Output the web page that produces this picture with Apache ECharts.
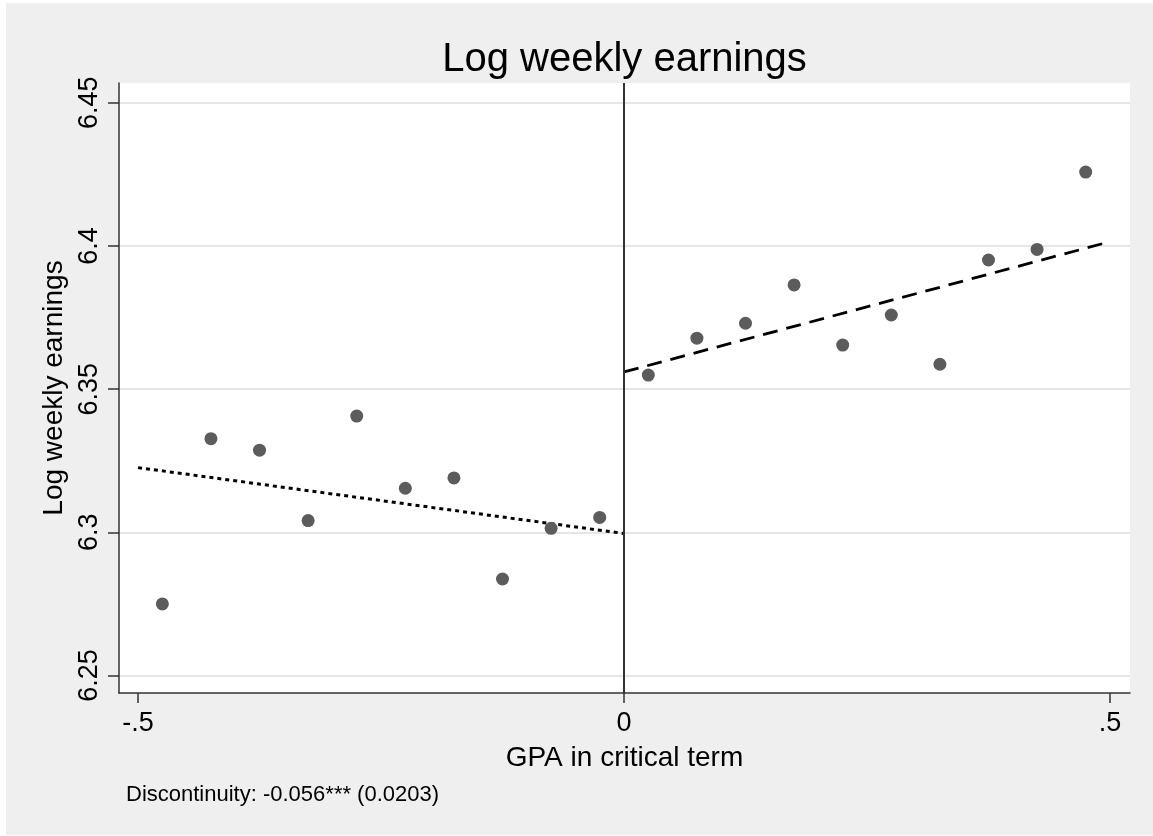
<!DOCTYPE html>
<html>
<head>
<meta charset="utf-8">
<title>Log weekly earnings</title>
<script src="https://cdn.jsdelivr.net/npm/echarts@6/dist/echarts.min.js"></script>
<style>
  html, body { margin: 0; padding: 0; background: #fff; }
  #main { width: 1153px; height: 836px; }
</style>
</head>
<body>
<div id="main"></div>
<script>
// bin midpoints of GPA in critical term, and mean log weekly earnings per bin
const binX = [
  -0.475, -0.425, -0.375, -0.325, -0.275, -0.225, -0.175, -0.125, -0.075, -0.025,
  0.025, 0.075, 0.125, 0.175, 0.225, 0.275, 0.325, 0.375, 0.425, 0.475
];
const binMeans = [
  6.2750, 6.3327, 6.3287, 6.3041, 6.3406, 6.3154, 6.3190, 6.2837, 6.3014, 6.3052,
  6.3549, 6.3678, 6.3730, 6.3864, 6.3654, 6.3759, 6.3587, 6.3951, 6.3988, 6.4258
];

// linear fits on each side of the cutoff
const fitLeftX = [-0.5, 0];
const fitLeftY = [6.3226, 6.2996];
const fitRightX = [0, 0.5];
const fitRightY = [6.3560, 6.4015];

const xTicks = [-0.5, 0, 0.5];
const xTickLabels = ['-.5', '0', '.5'];
const yTicks = [6.25, 6.3, 6.35, 6.4, 6.45];

const cutoff = 0;
const note = 'Discontinuity: -0.056*** (0.0203)';

const font = "'Liberation Sans', Arial, Helvetica, sans-serif";

const zip = (xs, ys) => xs.map((x, i) => [x, ys[i]]);

const chart = echarts.init(document.getElementById('main'));

const option = {
  backgroundColor: '#fff',
  animation: false,
  textStyle: { fontFamily: font, color: '#000' },
  title: {
    text: 'Log weekly earnings',
    left: 624.5,
    top: 40,
    padding: 0,
    textAlign: 'center',
    textStyle: { fontFamily: font, fontSize: 40, fontWeight: 'normal', color: '#000' }
  },
  graphic: [
    {
      type: 'rect',
      z: -10,
      silent: true,
      shape: { x: 6, y: 3, width: 1147, height: 832 },
      style: { fill: '#efefef' }
    },
    {
      type: 'text',
      left: 126,
      top: 784,
      silent: true,
      style: { text: note, font: '22px ' + font, fill: '#000' }
    }
  ],
  grid: {
    left: 119,
    right: 23,
    top: 83,
    bottom: 143,
    show: true,
    backgroundColor: '#fff',
    borderWidth: 0
  },
  xAxis: {
    type: 'value',
    min: -0.5196,
    max: 0.5206,
    name: 'GPA in critical term',
    nameLocation: 'middle',
    nameGap: 51,
    nameTextStyle: { fontFamily: font, fontSize: 28, color: '#000' },
    axisLine: { show: true, onZero: false, lineStyle: { color: '#333', width: 1.5 } },
    axisTick: { show: true, length: 10, customValues: xTicks, lineStyle: { color: '#333', width: 1.5 } },
    axisLabel: {
      customValues: xTicks,
      margin: 17,
      fontSize: 27,
      color: '#000',
      fontFamily: font,
      formatter: (v) => xTickLabels[xTicks.indexOf(v)]
    },
    splitLine: { show: false }
  },
  yAxis: {
    type: 'value',
    min: 6.2439,
    max: 6.4569,
    name: 'Log weekly earnings',
    nameLocation: 'middle',
    nameGap: 48,
    nameTextStyle: { fontFamily: font, fontSize: 28, color: '#000' },
    axisLine: { show: true, onZero: false, lineStyle: { color: '#333', width: 1.5 } },
    axisTick: { show: true, length: 11, customValues: yTicks, lineStyle: { color: '#333', width: 1.5 } },
    axisLabel: {
      customValues: yTicks,
      rotate: 90,
      margin: 16,
      fontSize: 27,
      color: '#000',
      fontFamily: font,
      formatter: (v) => String(v)
    },
    splitLine: { show: true, lineStyle: { color: '#e6e6e6', width: 2 } }
  },
  series: [
    {
      name: 'fit left',
      type: 'line',
      data: zip(fitLeftX, fitLeftY),
      symbol: 'none',
      silent: true,
      lineStyle: { color: '#000', width: 3, type: [4, 4] },
      z: 3
    },
    {
      name: 'fit right',
      type: 'line',
      data: zip(fitRightX, fitRightY),
      symbol: 'none',
      silent: true,
      lineStyle: { color: '#000', width: 2.8, type: [15, 9] },
      z: 3
    },
    {
      name: 'bin means',
      type: 'scatter',
      data: zip(binX, binMeans),
      symbol: 'circle',
      symbolSize: 13,
      itemStyle: { color: '#5c5c5c', opacity: 1 },
      z: 4,
      // vertical line at the cutoff
      markLine: {
        silent: true,
        symbol: 'none',
        label: { show: false },
        lineStyle: { color: '#333', width: 2, type: 'solid' },
        data: [{ xAxis: cutoff }]
      }
    }
  ]
};

chart.setOption(option);
</script>
</body>
</html>
